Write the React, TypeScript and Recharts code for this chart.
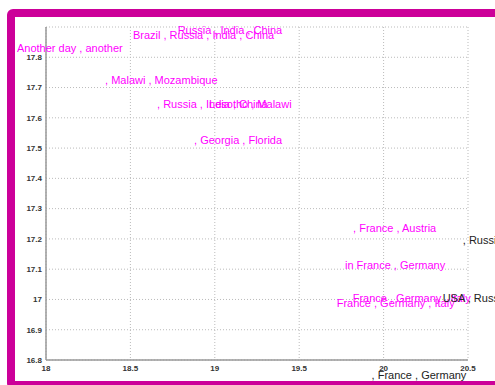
import React from 'react';
import { ScatterChart, Scatter, XAxis, YAxis, CartesianGrid, ReferenceDot } from 'recharts';

const labels = [
  'Another day , another',
  'Brazil , Russia , India , China',
  'Russia , India , China',
  ', Malawi , Mozambique',
  ', Russia , India , China',
  'Lesotho , Malawi',
  ', Georgia , Florida',
  ', France , Austria',
  ', Russia , India , China',
  'in France , Germany',
  'France , Germany , Italy',
  'France , Germany , Italy',
  'USA , Russia , India',
  ', France , Germany',
];
const xs = [17.828, 18.515, 18.78, 18.35, 18.658, 18.966, 18.877, 19.819, 20.469, 19.771, 19.817, 19.722, 20.35, 19.929];
const ys = [17.829, 17.874, 17.888, 17.726, 17.645, 17.645, 17.526, 17.235, 17.196, 17.114, 17.004, 16.987, 17.005, 16.75];
const colors = ['m', 'm', 'm', 'm', 'm', 'm', 'm', 'm', 'k', 'm', 'm', 'm', 'k', 'k'];

const xTicks = [18, 18.5, 19, 19.5, 20, 20.5];
const yTicks = [16.8, 16.9, 17, 17.1, 17.2, 17.3, 17.4, 17.5, 17.6, 17.7, 17.8];

const colorMap: Record<string, string> = { m: '#ff00ff', k: '#222222' };

const points = labels.map((label, i) => ({ x: xs[i], y: ys[i], label, c: colors[i] }));

const tickStyle = { fontSize: 8, fontWeight: 'bold' as const, fill: '#333', fontFamily: 'Liberation Sans, Arial, sans-serif' };

export default function App() {
  return (
    <div style={{ position: 'absolute', left: 0, top: 0, width: 495, height: 385, overflow: 'hidden', background: '#fff' }}>
      <div
        style={{
          position: 'absolute',
          left: 7,
          top: 9,
          width: 600,
          height: 380,
          boxSizing: 'border-box',
          border: '8px solid #cc0099',
          borderRadius: 6,
          background: '#fff',
        }}
      />
      <div style={{ position: 'absolute', left: 0, top: 0 }}>
        <ScatterChart width={495} height={385} margin={{ top: 27, right: 27, bottom: 5, left: 6 }}>
          <CartesianGrid stroke="#bbbbbb" strokeDasharray="1 2" />
          <XAxis
            type="number"
            dataKey="x"
            domain={[18, 20.5]}
            ticks={xTicks}
            allowDataOverflow
            height={20}
            tickLine={false}
            tickSize={5}
            tickMargin={0}
            axisLine={{ stroke: '#999', strokeWidth: 1.5 }}
            tick={tickStyle}
            interval={0}
          />
          <YAxis
            type="number"
            dataKey="y"
            domain={[16.8, 17.9]}
            ticks={yTicks}
            allowDataOverflow
            width={40}
            tickLine={false}
            tickSize={4}
            tickMargin={0}
            axisLine={{ stroke: '#999', strokeWidth: 1.5 }}
            tick={tickStyle}
            interval={0}
          />
          <Scatter data={[]} isAnimationActive={false} />
          {points.map((p, i) => (
            <ReferenceDot
              key={i}
              x={p.x}
              y={p.y}
              ifOverflow="visible"
              shape={(props: any) => (
                <text
                  x={props.cx}
                  y={props.cy}
                  dy="0.35em"
                  textAnchor="start"
                  fill={colorMap[p.c]}
                  fontSize={11}
                  fontFamily="Liberation Sans, Arial, sans-serif"
                >
                  {p.label}
                </text>
              )}
            />
          ))}
        </ScatterChart>
      </div>
    </div>
  );
}
